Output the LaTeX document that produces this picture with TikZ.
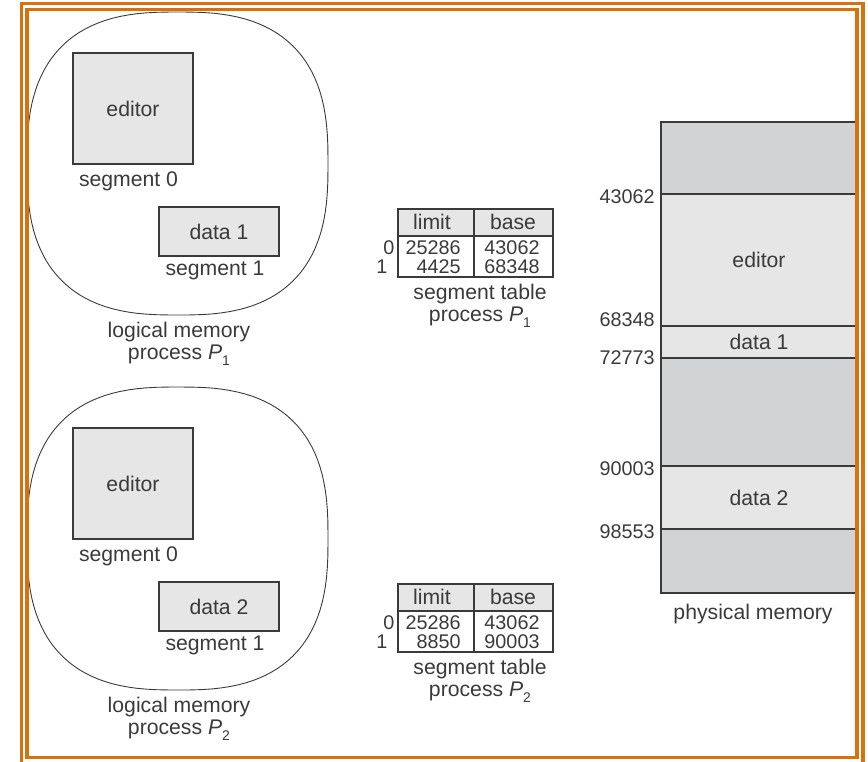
\documentclass[tikz,border=0pt]{standalone}
\usepackage{fontspec}
\setmainfont{Liberation Sans}
\usetikzlibrary{positioning}
\definecolor{frameorange}{HTML}{D8700E}
\definecolor{seglight}{HTML}{E6E6E6}
\definecolor{segdark}{HTML}{D2D3D5}
\definecolor{inkgray}{HTML}{3A3A3A}
\newcommand{\procP}[1]{\textit{P}\raisebox{-0.5ex}{\scriptsize #1}}
\tikzset{
  txt/.style={text=inkgray,inner sep=0pt,font=\fontsize{10.6}{11}\selectfont},
  numtxt/.style={txt,font=\fontsize{9.9}{11}\selectfont},
  segbox/.style={txt,draw=inkgray,fill=seglight,line width=0.55pt},
  memline/.style={draw=inkgray,line width=0.55pt},
  blob/.style={draw=inkgray,line width=0.45pt},
  frame/.style={draw=frameorange,line width=1.6pt}
}
\begin{document}
\begin{tikzpicture}[x=0.5pt,y=-0.5pt]
\useasboundingbox (0,0) rectangle (868,761);
% logical memory and segment table, one row per process
\foreach \k/\dy/\lim/\bas in {1/0/4425/68348,2/375/8850/90003}{
    \draw[blob] plot[domain=0.5:359.5,samples=120]
        ({177.5+150.5*sign(cos(\x))*abs(cos(\x))^0.75},{163.5+\dy+151.5*sign(sin(\x))*abs(sin(\x))^0.75}) -- cycle;
    \node[segbox,minimum width=60pt,minimum height=55.5pt] (ed\k) at (133,108.5+\dy) {editor};
    \node[txt] (seg0\k) at (128.5,181+\dy) {segment 0};
    \node[segbox,minimum width=60pt,minimum height=24.5pt] (dat\k) at (219,231.5+\dy) {data \k};
    \node[txt] (seg1\k) at (215,270+\dy) {segment 1};
    \node[txt,align=center] (lm\k) at (179,344+\dy) {logical memory\\process \procP{\k}};
    % segment table
    \draw[memline,fill=seglight] (398,209+\dy) rectangle (553,236+\dy);
    \draw[memline] (398,209+\dy) rectangle (553,277+\dy) (474,209+\dy) -- (474,277+\dy);
    \node[txt] (lh\k) at (432,222+\dy) {limit};
    \node[txt] (bh\k) at (513,222+\dy) {base};
    \node[numtxt] (ix0\k) at (389,248+\dy) {0};
    \node[numtxt] (ix1\k) at (382,267+\dy) {1};
    \node[numtxt,anchor=east] (lz\k) at (461,248+\dy) {25286};
    \node[numtxt,anchor=east] (lo\k) at (461,267+\dy) {\lim};
    \node[numtxt] (bz\k) at (512,248+\dy) {43062};
    \node[numtxt] (bo\k) at (512,267+\dy) {\bas};
    \node[txt,align=center] (st\k) at (480,306+\dy) {segment table\\process \procP{\k}};
}
% physical memory
\foreach \ya/\yb/\c in {122/194/segdark,194/326/seglight,326/358/seglight,358/466/segdark,466/529/seglight,529/593/segdark}
    \draw[memline,fill=\c] (661,\ya) rectangle (857,\yb);
\foreach \ya/\adr in {197/43062,320/68348,358/72773,469/90003,532/98553}
    \node[numtxt,anchor=east] (a\adr) at (655,\ya) {\adr};
\node[txt] (pmed) at (759,260) {editor};
\node[txt] (pmd1) at (759,342) {data 1};
\node[txt] (pmd2) at (759,498) {data 2};
\node[txt] (pm) at (753,614) {physical memory};
% double frame
\draw[frame] (27,9.5) rectangle (857,757.5);
\draw[frame] (21.5,3.5) rectangle (863,780);
\end{tikzpicture}
\end{document}
